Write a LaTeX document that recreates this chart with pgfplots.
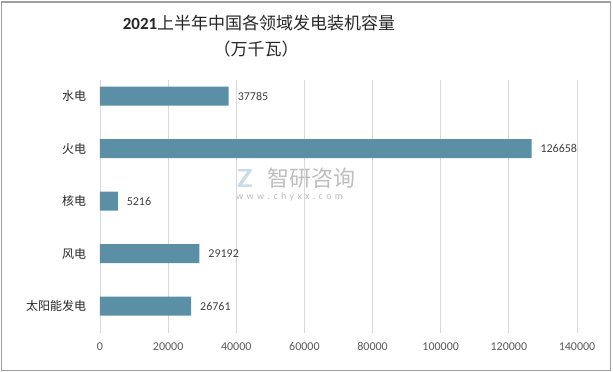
\documentclass[border=0pt]{standalone}
\usepackage{pgfplots}
\pgfplotsset{compat=1.18}
\usepackage{fontspec}
\setmainfont{Carlito}
\newfontfamily\cjk{Noto Sans CJK SC}
\definecolor{barc}{RGB}{91,143,166}
\definecolor{tickc}{RGB}{89,89,89}
\definecolor{labc}{RGB}{64,64,64}
\definecolor{gridc}{RGB}{217,217,217}
\definecolor{wm}{RGB}{190,190,190}
\definecolor{wmb}{RGB}{200,220,235}
\begin{document}
\begin{tikzpicture}[x=1pt,y=1pt]
\useasboundingbox (0,0) rectangle (613,372);
\draw[gray!75, line width=1.2pt] (1.5,1.5) rectangle (610.5,370);
% watermark
\node[anchor=west, inner sep=0, text=wmb, font=\fontsize{26}{28}\selectfont\bfseries\sffamily] at (236,194) {Z};
\node[anchor=west, inner sep=0, text=wm, font=\cjk\fontsize{22}{24}\selectfont] at (267,194) {智研咨询};
\node[anchor=west, inner sep=0, text=wm, font=\fontsize{10}{12}\selectfont] at (236,175) {w\,\,w\,\,w\,\,.\,\,c\,\,h\,\,y\,\,x\,\,x\,\,.\,\,c\,\,o\,\,m};
\begin{axis}[
  at={(100pt,39pt)}, anchor=south west,
  scale only axis, width=477pt, height=253pt,
  xbar, bar width=19pt,
  xmin=0, xmax=140000, ymin=-0.305, ymax=4.514,
  y dir=reverse,
  ytick={0,1,2,3,4},
  yticklabels={水电,火电,核电,风电,太阳能发电},
  xtick={0,20000,...,140000},
  scaled x ticks=false,
  /pgf/number format/fixed,
  /pgf/number format/precision=0,
  /pgf/number format/1000 sep={},
  /pgf/number format/assume math mode=true,
  axis line style={draw=none},
  major tick style={draw=none},
  xmajorgrids,
  major grid style={gridc, line width=0.8pt},
  yticklabel style={font=\cjk\fontsize{12}{14}\selectfont, text=black!85, xshift=-6pt},
  xticklabel style={font=\fontsize{12}{14}\selectfont, text=tickc, yshift=-6pt},
  nodes near coords,
  every node near coord/.append style={font=\fontsize{12}{14}\selectfont, text=labc, xshift=5.5pt},
  clip=false,
]
\addplot[fill=barc, draw=none] coordinates {(37785,0) (126658,1) (5216,2) (29192,3) (26761,4)};
\end{axis}
\node[font=\fontsize{17}{20}\selectfont, text=black!85] at (259,349) {\textbf{2021}{\cjk 上半年中国各领域发电装机容量}};
\node[font=\cjk\fontsize{17}{20}\selectfont, text=black!85] at (256,323) {（万千瓦）};
\end{tikzpicture}
\end{document}
